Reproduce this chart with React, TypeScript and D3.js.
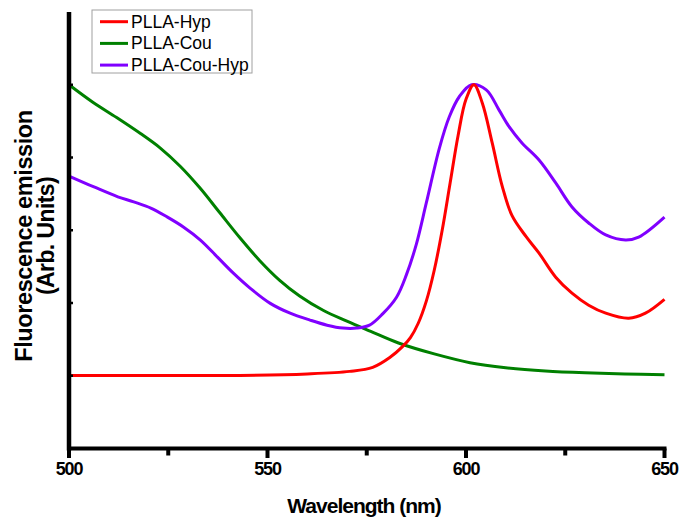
import React from "react";
import * as d3 from "d3";

const seriesNames = ["PLLA-Hyp", "PLLA-Cou", "PLLA-Cou-Hyp"];
const seriesColors = ["#ff0000", "#008000", "#8000ff"];

const hypWavelength = [500, 520, 543, 560, 570.7, 576.5, 580.8, 584, 586, 588, 590, 592, 594, 596, 598, 600, 602, 604.1, 606.6, 609.1, 611.6, 615.1, 618.4, 622.6, 626.7, 630.9, 635.2, 641, 645.2, 650];
const hypValue = [0.201, 0.201, 0.201, 0.205, 0.212, 0.223, 0.25, 0.28, 0.305, 0.345, 0.405, 0.49, 0.6, 0.73, 0.86, 0.96, 1.0, 0.95, 0.84, 0.722, 0.64, 0.583, 0.537, 0.471, 0.427, 0.394, 0.372, 0.358, 0.372, 0.41];

const couWavelength = [500, 506, 512, 518, 523, 528, 533, 538, 543, 548, 553, 558, 564, 570, 576, 583, 592, 601, 610, 620, 630, 640, 650];
const couValue = [1.0, 0.952, 0.91, 0.866, 0.826, 0.776, 0.716, 0.648, 0.58, 0.517, 0.463, 0.42, 0.38, 0.35, 0.322, 0.29, 0.26, 0.236, 0.222, 0.213, 0.208, 0.205, 0.203];

const couHypWavelength = [500, 506.3, 512.3, 516.3, 520.6, 524.8, 528.8, 533.1, 537.4, 541.4, 545.6, 550.7, 555.7, 560.7, 565, 569, 572.5, 575.7, 579, 582.5, 585, 587.5, 590, 593.3, 595.8, 598.3, 601.4, 605.1, 608.3, 610.9, 614.1, 618.4, 622.6, 626.7, 630.9, 635.2, 640.2, 643.5, 650];
const couHypValue = [0.749, 0.719, 0.692, 0.678, 0.661, 0.636, 0.609, 0.573, 0.526, 0.482, 0.441, 0.399, 0.372, 0.353, 0.339, 0.331, 0.331, 0.339, 0.37, 0.416, 0.478, 0.562, 0.675, 0.826, 0.912, 0.967, 1.0, 0.986, 0.931, 0.884, 0.84, 0.793, 0.73, 0.664, 0.62, 0.587, 0.573, 0.581, 0.636];

const xTicksMajor = [500, 550, 600, 650];
const xTicksMinor = [525, 575, 625];
const yTicks = [0.2, 0.4, 0.6, 0.8, 1.0];

export default function App() {
  const W = 682, H = 523;
  const x = d3.scaleLinear().domain([500, 650]).range([69, 664.5]);
  const y = d3.scaleLinear().domain([0, 1.2]).range([448.5, 12]);
  const line = d3
    .line<[number, number]>()
    .x((d) => x(d[0]))
    .y((d) => y(d[1]))
    .curve(d3.curveCatmullRom.alpha(0.5));

  const series = [
    { xs: hypWavelength, ys: hypValue },
    { xs: couWavelength, ys: couValue },
    { xs: couHypWavelength, ys: couHypValue },
  ];
  const drawOrder = [1, 2, 0];
  const font = "'Liberation Sans', Arial, Helvetica, sans-serif";

  return (
    <svg width={W} height={H} style={{ position: "absolute", left: 0, top: 0, background: "#fff" }}>
      {drawOrder.map((i) => {
        const pts = series[i].xs.map((v, k) => [v, series[i].ys[k]] as [number, number]);
        return (
          <path key={i} d={line(pts) || ""} fill="none" stroke={seriesColors[i]} strokeWidth={3} strokeLinejoin="round" />
        );
      })}
      <line x1={x(500)} x2={x(500)} y1={y(1.2)} y2={y(0) + 2} stroke="#000" strokeWidth={4.5} />
      {yTicks.map((t) => (
        <line key={t} x1={x(500)} x2={x(500) + 4} y1={y(t)} y2={y(t)} stroke="#000" strokeWidth={2.5} />
      ))}
      <line x1={x(500) - 2} x2={x(650) + 2} y1={y(0)} y2={y(0)} stroke="#000" strokeWidth={4} />
      {xTicksMajor.map((t) => (
        <line key={t} x1={x(t)} x2={x(t)} y1={y(0)} y2={y(0) + 9.5} stroke="#000" strokeWidth={4} />
      ))}
      {xTicksMinor.map((t) => (
        <line key={t} x1={x(t)} x2={x(t)} y1={y(0)} y2={y(0) + 7} stroke="#000" strokeWidth={4} />
      ))}
      {xTicksMajor.map((t) => (
        <text key={t} x={x(t)} y={475} textAnchor="middle" fontFamily={font} fontWeight="bold" fontSize={18} letterSpacing={-1.1}>
          {t}
        </text>
      ))}
      <text x={364} y={513} textAnchor="middle" fontFamily={font} fontWeight="bold" fontSize={21} letterSpacing={-1}>
        Wavelength (nm)
      </text>
      <text transform="translate(32,236) rotate(-90)" textAnchor="middle" fontFamily={font} fontWeight="bold" fontSize={23.5} letterSpacing={-0.4}>
        Fluorescence emission
      </text>
      <text transform="translate(54,236) rotate(-90)" textAnchor="middle" fontFamily={font} fontWeight="bold" fontSize={23} letterSpacing={-0.6}>
        (Arb. Units)
      </text>
      <rect x={92} y={10} width={160} height={63} fill="none" stroke="#a0a0a0" strokeWidth={1} />
      {seriesNames.map((n, i) => (
        <g key={n}>
          <line x1={100} x2={128} y1={21.7 + i * 21.7} y2={21.7 + i * 21.7} stroke={seriesColors[i]} strokeWidth={3} />
          <text x={131} y={21.7 + i * 21.7 + 6} fontFamily={font} fontSize={17.5}>
            {n}
          </text>
        </g>
      ))}
    </svg>
  );
}
